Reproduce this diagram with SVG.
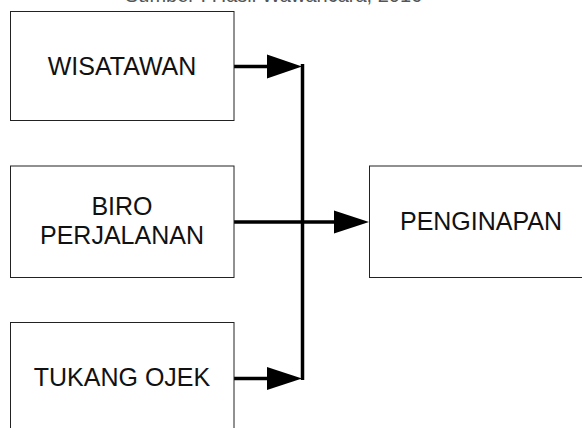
<svg xmlns="http://www.w3.org/2000/svg" width="582" height="428" viewBox="0 0 582 428">
<style>
.box{fill:#fff;stroke:#222;stroke-width:1}
.lbl{font-family:"Liberation Sans",Arial,sans-serif;font-size:25px;fill:#111;text-anchor:middle}
.cap{font-family:"Liberation Sans",Arial,sans-serif;font-size:20px;fill:#555}
.wire{stroke:#000;stroke-width:3.5;fill:none}
.head{fill:#000}
</style>
<rect width="582" height="428" fill="#fff"/>
<text class="cap" x="125" y="2">Sumber : Hasil Wawancara, 2016</text>
<g id="connectors">
<line class="wire" x1="234" y1="66.5" x2="270" y2="66.5"/>
<polygon class="head" points="267,54.5 302,66.5 267,78.5"/>
<line class="wire" x1="302.5" y1="64" x2="302.5" y2="380"/>
<line class="wire" x1="234" y1="222" x2="337" y2="222"/>
<polygon class="head" points="334,210.5 369,222 334,233.5"/>
<line class="wire" x1="234" y1="378.5" x2="270" y2="378.5"/>
<polygon class="head" points="267,367 302,378.5 267,390"/>
</g>
<g id="wisatawan">
<rect class="box" x="10.5" y="11.5" width="223.5" height="109"/>
<text class="lbl" x="122" y="74.5">WISATAWAN</text>
</g>
<g id="biro">
<rect class="box" x="10.5" y="166" width="223.5" height="111.5"/>
<text class="lbl" x="122" y="215">BIRO</text>
<text class="lbl" x="122" y="243.5">PERJALANAN</text>
</g>
<g id="tukang">
<rect class="box" x="10.5" y="322.5" width="223.5" height="120"/>
<text class="lbl" x="122" y="386">TUKANG OJEK</text>
</g>
<g id="penginapan">
<rect class="box" x="369.5" y="166" width="240" height="111.5"/>
<text class="lbl" x="481" y="230">PENGINAPAN</text>
</g>
</svg>
